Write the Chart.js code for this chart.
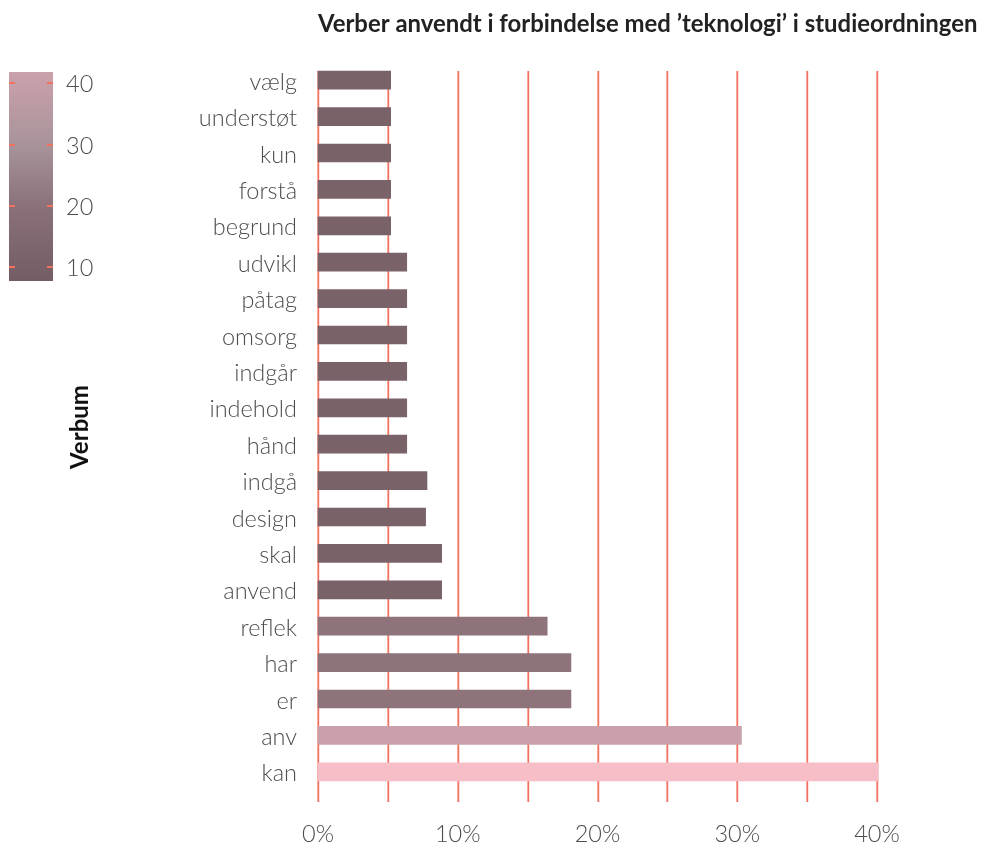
<!DOCTYPE html>
<html>
<head>
<meta charset="utf-8">
<script src="https://cdn.jsdelivr.net/npm/chart.js@4.4.0/dist/chart.umd.min.js"></script>
<style>
  body { margin: 0; background: #fff; }
  canvas { display: block; }
</style>
</head>
<body>
<canvas id="chart" width="984" height="846"></canvas>
<script>
// data, top to bottom
const verbs = ['vælg', 'understøt', 'kun', 'forstå', 'begrund', 'udvikl', 'påtag', 'omsorg', 'indgår', 'indehold',
  'hånd', 'indgå', 'design', 'skal', 'anvend', 'reflek', 'har', 'er', 'anv', 'kan']
const shares = [5.2, 5.2, 5.2, 5.2, 5.2, 6.35, 6.35, 6.35, 6.35, 6.35,
  6.35, 7.8, 7.7, 8.85, 8.85, 16.4, 18.1, 18.1, 30.3, 40.1]
const xTicks = [0, 10, 20, 30, 40]
const legendTicks = [10, 20, 30, 40]
const legendRange = [7.8, 41.8]

const FONT = 'Lato, "Noto Sans", sans-serif'
const RED = '#f3715f'
const GREY = '#4d4d4d'

function barColor(v) {
  if (v >= 35) return '#f7bec8'
  if (v >= 25) return '#caa1aa'
  if (v >= 15) return '#8f737a'
  return '#7a6269'
}

// vertical grid lines, longer than the plot area like in the original
const gridPlugin = {
  id: 'grid',
  beforeDatasetsDraw(chart) {
    const ctx = chart.ctx
    const x = chart.scales.x
    ctx.save()
    ctx.strokeStyle = RED
    ctx.lineWidth = 1.8
    for (let v = 0; v <= 40; v += 5) {
      const px = Math.round(x.getPixelForValue(v)) + 0.3
      ctx.beginPath()
      ctx.moveTo(px, 71)
      ctx.lineTo(px, 802)
      ctx.stroke()
    }
    ctx.restore()
  }
}

// title + colour bar legend
const extrasPlugin = {
  id: 'extras',
  afterDraw(chart) {
    const ctx = chart.ctx
    ctx.save()
    ctx.fillStyle = '#222'
    ctx.font = 'bold 23.9px ' + FONT
    ctx.textAlign = 'left'
    ctx.textBaseline = 'middle'
    ctx.fillText('Verber anvendt i forbindelse med ’teknologi’ i studieordningen', chart.chartArea.left, 24)

    const top = 72, bottom = 281, left = 9, right = 53
    const yOf = v => bottom - (v - legendRange[0]) / (legendRange[1] - legendRange[0]) * (bottom - top)
    const grad = ctx.createLinearGradient(0, bottom, 0, top)
    grad.addColorStop(0, '#745c64')
    grad.addColorStop(0.35, '#8a7179')
    grad.addColorStop(0.65, '#a8939a')
    grad.addColorStop(1, '#cba1ab')
    ctx.fillStyle = grad
    ctx.fillRect(left, top, right - left, bottom - top)

    ctx.strokeStyle = RED
    ctx.lineWidth = 2
    ctx.font = '300 23.5px ' + FONT
    ctx.fillStyle = GREY
    legendTicks.forEach(t => {
      const y = Math.round(yOf(t))
      ctx.beginPath()
      ctx.moveTo(left, y); ctx.lineTo(left + 6, y)
      ctx.moveTo(right - 6, y); ctx.lineTo(right, y)
      ctx.stroke()
      ctx.fillText(String(t), 66, y + 1)
    })

    ctx.translate(80, 427)
    ctx.rotate(-Math.PI / 2)
    ctx.textAlign = 'center'
    ctx.fillStyle = '#111'
    ctx.font = 'bold 24px ' + FONT
    ctx.fillText('Verbum', 0, 0)
    ctx.restore()
  }
}

new Chart(document.getElementById('chart'), {
  type: 'bar',
  data: {
    labels: verbs,
    datasets: [{
      data: shares,
      backgroundColor: shares.map(barColor),
      barThickness: 18,
      clip: false
    }]
  },
  options: {
    responsive: false,
    animation: false,
    indexAxis: 'y',
    layout: { padding: { top: 62, right: 107, left: 0, bottom: 0 } },
    plugins: { legend: { display: false }, tooltip: { enabled: false } },
    scales: {
      x: {
        min: 0, max: 40,
        afterBuildTicks: s => { s.ticks = xTicks.map(v => ({ value: v })) },
        afterFit: s => { s.height = 56 },
        grid: { display: false },
        border: { display: false },
        ticks: {
          padding: 22,
          color: GREY,
          font: { family: FONT, size: 23.5, weight: 300 },
          callback: v => v + '%'
        }
      },
      y: {
        afterFit: s => { s.width = 318 },
        grid: { display: false },
        border: { display: false },
        ticks: {
          padding: 13,
          labelOffset: 2,
          color: GREY,
          font: { family: FONT, size: 23.5, weight: 300 }
        }
      }
    }
  },
  plugins: [gridPlugin, extrasPlugin]
})
</script>
</body>
</html>
